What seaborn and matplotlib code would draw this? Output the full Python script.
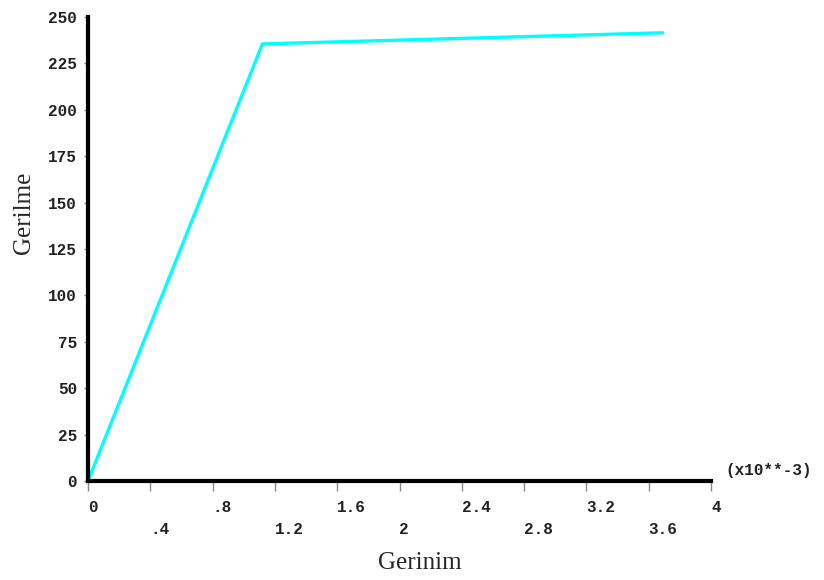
import pandas as pd
import seaborn as sns
import matplotlib.pyplot as plt

# --- data (strain x10^-3, stress) ---
gerinim = [0.0, 1.12, 3.69]
gerilme = [0.0, 235.5, 241.5]

row1_ticks = [0.0, 0.8, 1.6, 2.4, 3.2, 4.0]
row1_labels = ["0", ".8", "1.6", "2.4", "3.2", "4"]
row2_ticks = [0.4, 1.2, 2.0, 2.8, 3.6]
row2_labels = [".4", "1.2", "2", "2.8", "3.6"]
y_ticks = [0, 25, 50, 75, 100, 125, 150, 175, 200, 225, 250]

df = pd.DataFrame({"Gerinim": gerinim, "Gerilme": gerilme})

sns.set_style("white")
mono = "Liberation Mono"
serif = "Liberation Serif"
tick_font = dict(fontfamily=mono, fontsize=11.5, fontweight="bold", color="#222222")

fig = plt.figure(figsize=(8.24, 5.8), dpi=100)
ax = fig.add_axes([88 / 824, 1 - 481 / 580, 623 / 824, 464 / 580])

sns.lineplot(data=df, x="Gerinim", y="Gerilme", sort=False, color="#00ffff",
             linewidth=2.4, ax=ax, clip_on=False)

ax.set_xlim(0, 4)
ax.set_ylim(0, 250)

# spines: thick black left/bottom only
for side in ["top", "right"]:
    ax.spines[side].set_visible(False)
for side in ["left", "bottom"]:
    ax.spines[side].set_linewidth(3)
    ax.spines[side].set_color("black")

# x ticks on two staggered rows
ax.set_xticks(row1_ticks)
ax.set_xticklabels(row1_labels, **tick_font)
ax.set_xticks(row2_ticks, minor=True)
ax.set_xticklabels(row2_labels, minor=True, **tick_font)
ax.tick_params(axis="x", which="major", direction="out", length=7, width=1,
               color="#888888", pad=6.5, bottom=True)
ax.tick_params(axis="x", which="minor", direction="out", length=7, width=1,
               color="#888888", pad=22.5, bottom=True)
for lbl in ax.get_xticklabels() + ax.get_xticklabels(minor=True):
    lbl.set_ha("left")

ax.set_yticks(y_ticks)
ax.set_yticklabels([str(v) for v in y_ticks], **tick_font)
ax.tick_params(axis="y", direction="out", length=3, width=1, color="#888888",
               pad=5, left=True)

ax.set_xlabel("Gerinim", fontfamily=serif, fontsize=18, va="center")
ax.set_ylabel("Gerilme", fontfamily=serif, fontsize=18, va="center")
ax.xaxis.set_label_coords((420 - 88) / 623, (481 - 563) / 464)
ax.yaxis.set_label_coords((24 - 88) / 623, (481 - 213) / 464)

fig.text(725 / 824, 1 - 470 / 580, "(x10**-3)", ha="left", va="center", **tick_font)

fig.savefig("out.png", dpi=100)
